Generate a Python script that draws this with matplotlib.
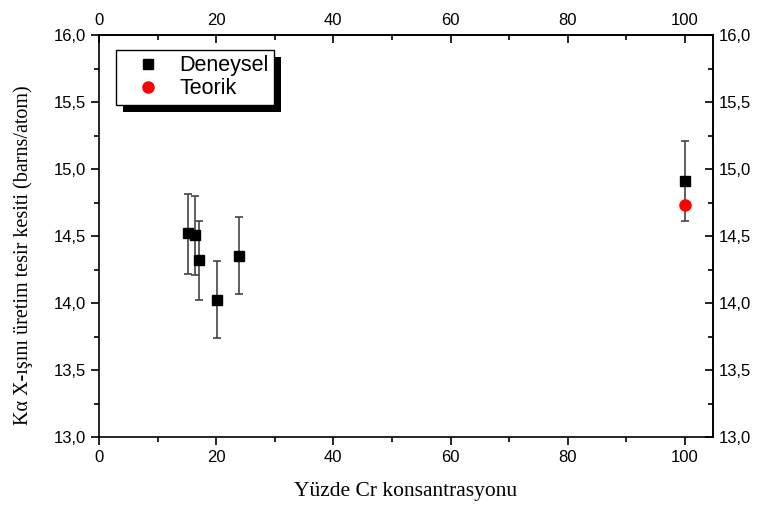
import matplotlib
matplotlib.use('Agg')
import matplotlib.pyplot as plt
from matplotlib.ticker import MultipleLocator, FuncFormatter
from matplotlib.patches import Rectangle

cr_percent = [15.2, 16.4, 17.1, 20.1, 23.9, 100]
sigma_exp = [14.52, 14.51, 14.32, 14.02, 14.35, 14.91]
err_upper = [0.29, 0.29, 0.29, 0.29, 0.29, 0.30]
err_lower = [0.30, 0.30, 0.30, 0.28, 0.28, 0.30]

# theoretical (Teorik) value
cr_theory = [100]
sigma_theory = [14.73]

fig = plt.figure(figsize=(7.63, 5.07), dpi=100)
ax = fig.add_axes([99 / 763, 70 / 507, 614 / 763, 402 / 507])

ax.errorbar(cr_percent, sigma_exp, yerr=[err_lower, err_upper], fmt='none',
            ecolor='#444444', elinewidth=1.2, capsize=3.2, capthick=1.2, zorder=2)
ax.plot(cr_percent, sigma_exp, 's', color='black', markersize=7, label='Deneysel', zorder=3)
ax.plot(cr_theory, sigma_theory, 'o', color='red', markersize=8, label='Teorik', zorder=4)

ax.set_xlim(0, 104.8)
ax.set_ylim(13.0, 16.0)
ax.xaxis.set_major_locator(MultipleLocator(20))
ax.xaxis.set_minor_locator(MultipleLocator(10))
ax.yaxis.set_major_locator(MultipleLocator(0.5))
ax.yaxis.set_minor_locator(MultipleLocator(0.25))
comma = FuncFormatter(lambda v, p: f'{v:.1f}'.replace('.', ','))
ax.yaxis.set_major_formatter(comma)

for sp in ax.spines.values():
    sp.set_linewidth(1.2)

tick_size = 12
ax.tick_params(axis='both', which='both', labelsize=tick_size, width=1.2,
               labelfontfamily='Liberation Sans')
ax.tick_params(which='major', length=6)
ax.tick_params(which='minor', length=3.5)
ax.tick_params(axis='x', direction='out', top=False)
ax.tick_params(axis='y', direction='out', right=False)

# top and right axes with inward ticks
ax_top = ax.secondary_xaxis('top')
ax_top.xaxis.set_major_locator(MultipleLocator(20))
ax_top.xaxis.set_minor_locator(MultipleLocator(10))
ax_right = ax.secondary_yaxis('right')
ax_right.yaxis.set_major_locator(MultipleLocator(0.5))
ax_right.yaxis.set_minor_locator(MultipleLocator(0.25))
ax_right.yaxis.set_major_formatter(comma)
for s in [ax_top, ax_right]:
    s.tick_params(which='both', direction='in', width=1.2, labelsize=tick_size,
                  labelfontfamily='Liberation Sans')
    s.tick_params(which='major', length=6)
    s.tick_params(which='minor', length=3.5)
    for sp in s.spines.values():
        sp.set_linewidth(1.2)
ax_top.tick_params(pad=5)
ax_right.tick_params(pad=4)

ax.set_xlabel('Yüzde Cr konsantrasyonu', family='Liberation Serif', fontsize=15.5)
ax.xaxis.set_label_coords(0.5, -0.112)
ax.set_ylabel('K\u03b1 X-ışını üretim tesir kesiti (barns/atom)',
              family='Liberation Serif', fontsize=14.5)
ax.yaxis.set_label_coords(-0.107, 0.453)

leg = ax.legend(loc='upper left', bbox_to_anchor=(0.028, 0.963), borderaxespad=0,
                frameon=True, fancybox=False, edgecolor='black', framealpha=1,
                prop={'family': 'Liberation Sans', 'size': 15.5},
                handletextpad=0.2, borderpad=0.25, labelspacing=0.1,
                handlelength=2.5, numpoints=1)
leg.get_frame().set_linewidth(1.0)
leg.set_zorder(11)

# black drop shadow behind legend box
fig.canvas.draw()
bb = leg.get_window_extent().transformed(ax.transAxes.inverted())
ax.add_patch(Rectangle((bb.x0 + 7 / 614, bb.y0 - 7 / 402), bb.width, bb.height,
                       transform=ax.transAxes, facecolor='black',
                       edgecolor='none', zorder=10, clip_on=False))

fig.savefig('out.png', dpi=100)
